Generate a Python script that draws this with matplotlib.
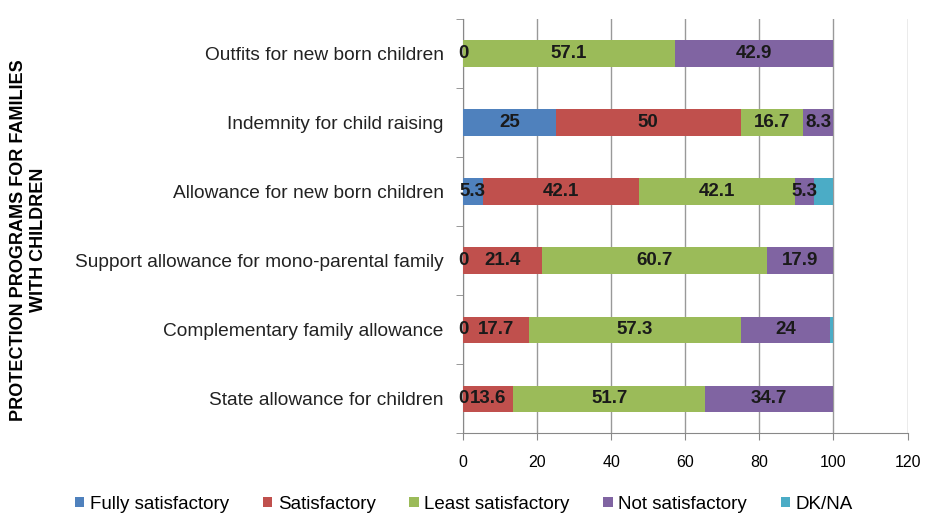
import matplotlib.pyplot as plt
import numpy as np

plt.rcParams['font.family'] = ['Liberation Sans', 'DejaVu Sans']

programs = ['Outfits for new born children',
            'Indemnity for child raising',
            'Allowance for new born children',
            'Support allowance for mono-parental family',
            'Complementary family allowance',
            'State allowance for children']

fully = [0, 25, 5.3, 0, 0, 0]
satisf = [0, 50, 42.1, 21.4, 17.7, 13.6]
least = [57.1, 16.7, 42.1, 60.7, 57.3, 51.7]
notsat = [42.9, 8.3, 5.3, 17.9, 24, 34.7]
dkna = [0, 0, 5.2, 0, 1.0, 0]

series = [('Fully satisfactory', fully, '#4F81BD'),
          ('Satisfactory', satisf, '#C0504D'),
          ('Least satisfactory', least, '#9BBB59'),
          ('Not satisfactory', notsat, '#8064A2'),
          ('DK/NA', dkna, '#4BACC6')]

fig = plt.figure(figsize=(9.28, 5.27), dpi=100)
ax = fig.add_axes([0.499, 0.178, 0.479, 0.786])

y = np.arange(len(programs))[::-1]
left = np.zeros(len(programs))
for k, (name, vals, col) in enumerate(series):
    vals = np.array(vals)
    ax.barh(y, vals, left=left, height=0.38, color=col, label=name, zorder=3)
    if k < 4:
        for yi, l, v in zip(y, left, vals):
            # zeros only shown for the first series
            if v == 0 and (k != 0):
                continue
            ax.text(l + v / 2, yi, f'{v:g}', ha='center', va='center',
                    fontsize=13.5, fontweight='bold', color='#1a1a1a', zorder=4)
    left += vals

ax.set_xlim(0, 120)
ax.set_ylim(-0.5, len(programs) - 0.5)
ax.set_xticks(range(0, 121, 20))
ax.set_yticks(y)
ax.set_yticklabels(programs, fontsize=13.8, color='#222222')
ax.set_yticks(np.arange(-0.5, len(programs), 1), minor=True)
ax.tick_params(axis='y', which='major', length=0, pad=14)
ax.tick_params(axis='y', which='minor', length=5, color='#888888')
ax.tick_params(axis='x', length=5, color='#888888', labelsize=11.5, pad=11)
ax.xaxis.grid(True, color='#999999', linewidth=1, zorder=0)

for s in ['top', 'right']:
    ax.spines[s].set_visible(False)
for s in ['left', 'bottom']:
    ax.spines[s].set_color('#888888')

fig.text(0.031, 0.545, 'PROTECTION PROGRAMS FOR FAMILIES\nWITH CHILDREN',
         rotation=90, ha='center', va='center', fontsize=13,
         fontweight='bold', linespacing=1.25)

fig.legend(loc='lower center', bbox_to_anchor=(0.5, -0.005), ncol=5,
           frameon=False, fontsize=13.5, handlelength=0.5, handleheight=0.5,
           handletextpad=0.3, columnspacing=1.8)

fig.savefig('out.png', dpi=100)
